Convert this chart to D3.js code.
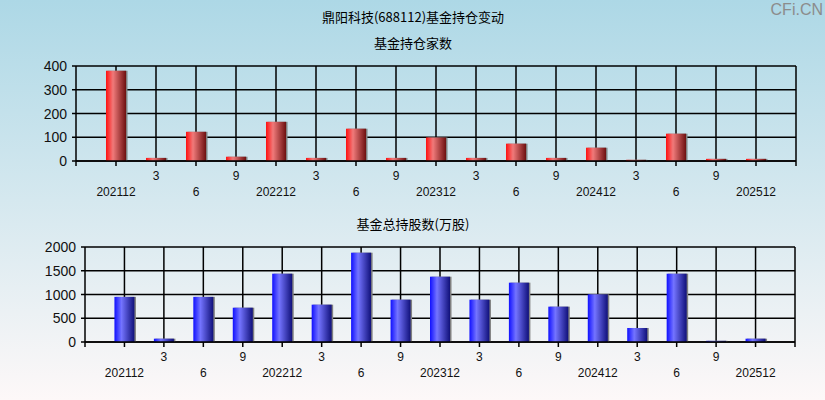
<!DOCTYPE html>
<html><head><meta charset="utf-8">
<script src="https://cdn.jsdelivr.net/npm/d3@7"></script>
<style>body{margin:0;padding:0;overflow:hidden}svg{display:block}</style>
</head><body>
<script>
const categories = ["202112","3","6","9","202212","3","6","9","202312","3","6","9","202412","3","6","9","202512"];
const fundCounts = [380,13,123,18,165,13,136,13,99,13,73,13,56,5,115,9,9];
const fundShares = [950,70,950,722,1438,786,1880,891,1375,891,1249,744,1003,295,1438,25,70];
const countTicks = [0,100,200,300,400];
const shareTicks = [0,500,1000,1500,2000];

const W=825,H=400;
const svg=d3.select("body").append("svg").attr("width",W).attr("height",H);
const defs=svg.append("defs");
const bg=defs.append("linearGradient").attr("id","bg").attr("x1",0).attr("y1",0).attr("x2",0).attr("y2",1);
bg.append("stop").attr("offset","0%").attr("stop-color","#add8e6");
bg.append("stop").attr("offset","100%").attr("stop-color","#fdf8f8");
function barGrad(id,c0,c1,c2){
  const g=defs.append("linearGradient").attr("id",id).attr("x1",0).attr("y1",0).attr("x2",1).attr("y2",0);
  g.append("stop").attr("offset","0%").attr("stop-color",c0);
  g.append("stop").attr("offset","35%").attr("stop-color",c1);
  g.append("stop").attr("offset","100%").attr("stop-color",c2);
}
barGrad("red","#ff1010","#f07a7a","#6e1010");
barGrad("blue","#1010ff","#7474ff","#10107a");
svg.append("rect").attr("width",W).attr("height",H).attr("fill","url(#bg)");

const cjk='"Noto Sans CJK SC","Noto Sans",sans-serif';
const num='"Liberation Sans",Arial,sans-serif';
svg.append("text").attr("x",413).attr("y",22).attr("text-anchor","middle").attr("font-family",cjk).attr("font-size",13).text("鼎阳科技(688112)基金持仓变动");
svg.append("text").attr("x",823).attr("y",15).attr("text-anchor","end").attr("font-family",num).attr("font-size",16).attr("fill","#8c8c8c").text("CFi.CN");

function panel(opts){
  const {left,right,top,bottom,values,ticks,grad,title,titleY,lab1,lab2}=opts;
  svg.append("text").attr("x",413).attr("y",titleY).attr("text-anchor","middle").attr("font-family",cjk).attr("font-size",13).text(title);
  const step=(right-left)/(categories.length+1);
  const x=d3.scaleBand().domain(d3.range(categories.length)).range([left+step/2,right-step/2]);
  const y=d3.scaleLinear().domain([0,d3.max(ticks)]).range([bottom,top]);
  const g=svg.append("g");
  g.selectAll(".hg").data(ticks).join("line").attr("x1",left-4).attr("x2",right).attr("y1",d=>y(d)).attr("y2",d=>y(d)).attr("stroke","#000").attr("stroke-width",1.5);
  g.selectAll(".vg").data(d3.range(categories.length)).join("line").attr("x1",d=>x(d)+x.bandwidth()/2).attr("x2",d=>x(d)+x.bandwidth()/2).attr("y1",top).attr("y2",bottom+5).attr("stroke","#000").attr("stroke-width",1.5);
  g.append("line").attr("x1",left).attr("x2",left).attr("y1",top).attr("y2",bottom+5).attr("stroke","#000").attr("stroke-width",1.5);
  g.append("line").attr("x1",right).attr("x2",right).attr("y1",top).attr("y2",bottom+5).attr("stroke","#000").attr("stroke-width",1.5);
  g.selectAll(".yl").data(ticks).join("text").attr("x",left-9).attr("y",d=>y(d)+5).attr("text-anchor","end").attr("font-family",num).attr("font-size",14).attr("fill","#111").text(d=>d);
  const bw=20;
  g.selectAll(".sh").data(values).join("rect").attr("x",(d,i)=>x(i)+x.bandwidth()/2-bw/2+1.5).attr("y",d=>y(d)).attr("width",bw).attr("height",d=>bottom-y(d)).attr("fill","#808080");
  g.selectAll(".bar").data(values).join("rect").attr("x",(d,i)=>x(i)+x.bandwidth()/2-bw/2).attr("y",d=>y(d)).attr("width",bw).attr("height",d=>bottom-y(d)).attr("fill",`url(#${grad})`);
  g.append("line").attr("x1",left).attr("x2",right).attr("y1",bottom).attr("y2",bottom).attr("stroke","#000").attr("stroke-width",1.5);
  g.selectAll(".xl").data(categories).join("text").attr("x",(d,i)=>x(i)+x.bandwidth()/2).attr("y",(d,i)=>i%2?lab1:lab2).attr("text-anchor","middle").attr("font-family",num).attr("font-size",12).attr("fill","#111").text(d=>d);
}
panel({left:76,right:796,top:66,bottom:161,values:fundCounts,ticks:countTicks,grad:"red",title:"基金持仓家数",titleY:48,lab1:180,lab2:196});
panel({left:85,right:795,top:247,bottom:342,values:fundShares,ticks:shareTicks,grad:"blue",title:"基金总持股数(万股)",titleY:229,lab1:361,lab2:377});
</script>
</body></html>
